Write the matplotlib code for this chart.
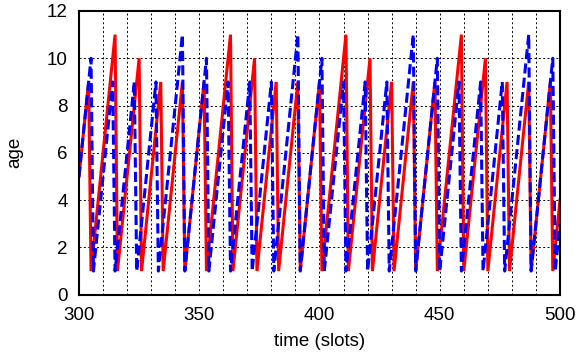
import matplotlib
matplotlib.use("Agg")
import matplotlib.pyplot as plt

# Vertices of the age sawtooth curves (slot, age)
red_t = [300, 304, 305, 315, 316, 325, 326, 334, 335, 343, 344, 352, 353, 363, 364,
         373, 374, 382, 383, 391, 392, 400, 401, 411, 412, 421, 422, 430, 431, 439,
         440, 448, 449, 459, 460, 469, 470, 478, 479, 487, 488, 496, 497, 500]
red_age = [5, 9, 1, 11, 1, 10, 1, 9, 1, 9, 1, 9, 1, 11, 1,
           10, 1, 9, 1, 9, 1, 9, 1, 11, 1, 10, 1, 9, 1, 9,
           1, 9, 1, 11, 1, 10, 1, 9, 1, 9, 1, 9, 1, 4]

blue_t = [300, 305, 306, 314, 315, 323, 324, 332, 333, 343, 344, 353, 354, 362, 363,
          371, 372, 380, 381, 391, 392, 401, 402, 410, 411, 419, 420, 428, 429, 439,
          440, 449, 450, 458, 459, 467, 468, 476, 477, 487, 488, 497, 498, 500]
blue_age = [5, 10, 1, 9, 1, 9, 1, 9, 1, 11, 1, 10, 1, 9, 1,
            9, 1, 9, 1, 11, 1, 10, 1, 9, 1, 9, 1, 9, 1, 11,
            1, 10, 1, 9, 1, 9, 1, 9, 1, 11, 1, 10, 1, 3]

x_ticks = [300, 350, 400, 450, 500]
y_ticks = [0, 2, 4, 6, 8, 10, 12]

plt.rcParams['font.family'] = ['Liberation Sans', 'DejaVu Sans']

fig = plt.figure(figsize=(5.8, 3.57), dpi=100)
ax = fig.add_axes([0.1362, 0.1745, 0.8293, 0.7947])

ax.plot(red_t, red_age, color='#ff0000', lw=2.2, solid_joinstyle='miter', zorder=3)
ax.plot(blue_t, blue_age, color='#0000ff', lw=2.2, linestyle=(0, (3.3, 1.4)), zorder=4)

ax.set_xlim(300, 500)
ax.set_ylim(0, 12)
ax.set_xticks(x_ticks)
ax.set_xticks(range(300, 501, 10), minor=True)
ax.set_yticks(y_ticks)
ax.tick_params(which='both', length=0)
ax.tick_params(axis='x', labelsize=13.5, pad=9)
ax.tick_params(axis='y', labelsize=13.5, pad=8)
ax.grid(which='both', color='black', linestyle=(0, (2, 2.5)), lw=0.7)
for s in ax.spines.values():
    s.set_linewidth(1.5)
    s.set_zorder(5)

ax.set_xlabel('time (slots)', fontsize=13.5, labelpad=6)
ax.set_ylabel('age', fontsize=13.5, labelpad=17)

fig.savefig('out.png', dpi=100)
